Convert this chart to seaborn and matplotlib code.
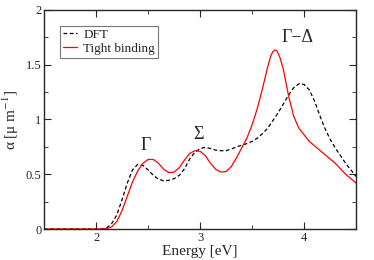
import numpy as np
import pandas as pd
import matplotlib
matplotlib.use("Agg")
import matplotlib.pyplot as plt
import matplotlib.ticker as mtick
import seaborn as sns

# energies [eV]
energy_dft = [1.5, 2.0, 2.05, 2.1, 2.15, 2.2, 2.25, 2.3, 2.35, 2.4, 2.45, 2.5, 2.55, 2.6,
              2.65, 2.7, 2.75, 2.8, 2.85, 2.9, 2.95, 3.0, 3.05, 3.1, 3.15, 3.2, 3.25,
              3.3, 3.35, 3.4, 3.45, 3.5, 3.55, 3.6, 3.65, 3.7, 3.75, 3.8, 3.85, 3.9,
              3.95, 4.0, 4.05, 4.1, 4.15, 4.2, 4.25, 4.3, 4.35, 4.4, 4.45, 4.5]
dft = [0, 0, 0, 0.01, 0.05, 0.13, 0.27, 0.42, 0.54, 0.59, 0.58, 0.54, 0.49, 0.455,
       0.44, 0.445, 0.46, 0.49, 0.55, 0.64, 0.70, 0.735, 0.745, 0.735, 0.72, 0.715, 0.715,
       0.73, 0.75, 0.765, 0.78, 0.80, 0.83, 0.87, 0.92, 0.99, 1.06, 1.14, 1.22, 1.29,
       1.325, 1.32, 1.27, 1.17, 1.04, 0.92, 0.82, 0.74, 0.67, 0.60, 0.54, 0.48]

energy_tb = [1.5, 2.0, 2.05, 2.1, 2.15, 2.2, 2.25, 2.3, 2.35, 2.4, 2.45, 2.5, 2.55, 2.6,
             2.65, 2.7, 2.75, 2.8, 2.85, 2.9, 2.95, 3.0, 3.05, 3.1, 3.15, 3.2, 3.25,
             3.3, 3.35, 3.4, 3.45, 3.5, 3.55, 3.6, 3.62, 3.65, 3.68, 3.7, 3.72, 3.74,
             3.77, 3.8, 3.85, 3.9, 3.95, 4.0, 4.05, 4.1, 4.15, 4.2, 4.25, 4.3, 4.35,
             4.4, 4.45, 4.5]
tight_binding = [0, 0, 0, 0.005, 0.02, 0.07, 0.17, 0.30, 0.43, 0.53, 0.60, 0.635, 0.635, 0.60,
                 0.545, 0.515, 0.52, 0.56, 0.63, 0.69, 0.715, 0.71, 0.67, 0.60, 0.545, 0.52, 0.525,
                 0.57, 0.65, 0.74, 0.83, 0.95, 1.10, 1.28, 1.36, 1.48, 1.58, 1.62, 1.635, 1.625,
                 1.56, 1.46, 1.22, 1.03, 0.92, 0.86, 0.80, 0.76, 0.72, 0.68, 0.64, 0.60, 0.55,
                 0.50, 0.46, 0.42]

labels = ["Γ", "Σ", "Γ−Δ"]
label_x = [2.48, 2.98, 3.94]
label_y = [0.72, 0.82, 1.71]

df = pd.concat([
    pd.DataFrame({"energy": energy_dft, "alpha": dft, "method": "DFT"}),
    pd.DataFrame({"energy": energy_tb, "alpha": tight_binding, "method": "Tight binding"}),
], ignore_index=True)

sns.set_style("ticks")
plt.rcParams["font.family"] = ["Liberation Serif", "DejaVu Serif"]
plt.rcParams["mathtext.fontset"] = "stix"

fig = plt.figure(figsize=(3.74, 2.6), dpi=100)
ax = fig.add_axes([0.118, 0.119, 0.834, 0.843])

sns.lineplot(data=df, x="energy", y="alpha", hue="method", style="method",
             palette={"DFT": "black", "Tight binding": "red"},
             dashes={"DFT": (3, 2), "Tight binding": ""},
             linewidth=0.9, ax=ax)

ax.set_xlim(1.5, 4.5)
ax.set_ylim(0, 2)
ax.xaxis.set_major_locator(mtick.FixedLocator([2, 3, 4]))
ax.xaxis.set_minor_locator(mtick.MultipleLocator(0.5))
ax.yaxis.set_major_locator(mtick.FixedLocator([0, 0.5, 1, 1.5, 2]))
ax.yaxis.set_major_formatter(mtick.FixedFormatter(["0", "0.5", "1", "1.5", "2"]))
ax.yaxis.set_minor_locator(mtick.MultipleLocator(0.25))
ax.tick_params(which="both", direction="in", top=True, right=True, labelsize=9, pad=2)
ax.tick_params(which="major", length=5)
ax.tick_params(which="minor", length=3)
for s in ax.spines.values():
    s.set_linewidth(1.0)

ax.set_xlabel("Energy [eV]", fontsize=11, labelpad=1)
ax.set_ylabel(r"α [μ m$^{-1}$]", fontsize=11, labelpad=3)

for txt, x, y in zip(labels, label_x, label_y):
    ax.text(x, y, txt, fontsize=13, ha="center", va="baseline")

leg = ax.legend(loc="upper left", bbox_to_anchor=(0.051, 0.927), fontsize=9.5,
                frameon=True, fancybox=False, handlelength=1.1, borderpad=0.2,
                labelspacing=0.15, handletextpad=0.45, borderaxespad=0)
leg.get_frame().set_edgecolor("#555555")
leg.get_frame().set_linewidth(0.8)

fig.savefig("out.png", dpi=100)
